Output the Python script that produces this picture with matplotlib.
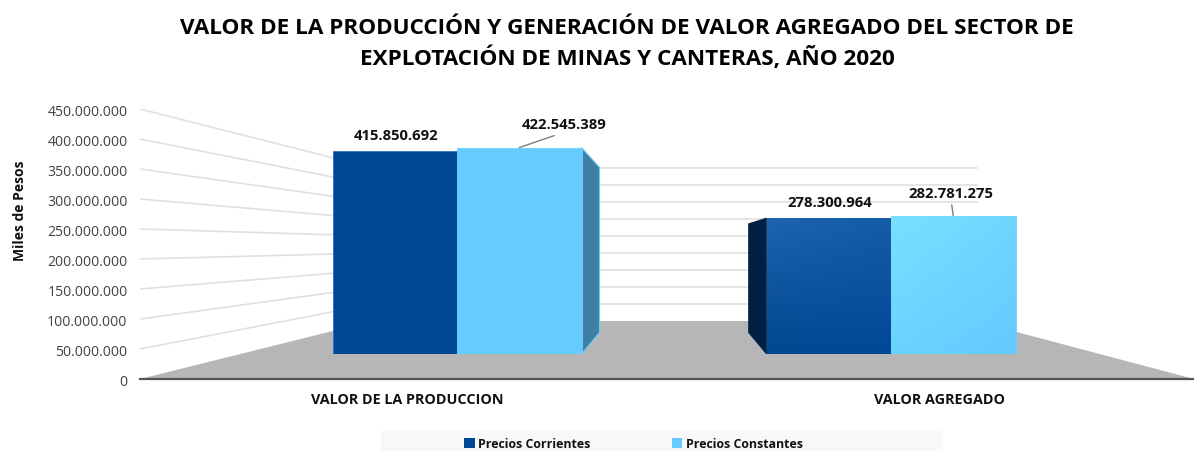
import numpy as np
import matplotlib
matplotlib.use("Agg")
import matplotlib.pyplot as plt
from matplotlib.colors import to_rgb
from matplotlib.patches import Patch, Polygon, Rectangle
from matplotlib.ticker import FuncFormatter
from matplotlib.transforms import ScaledTranslation

plt.rcParams['font.family'] = ['Open Sans', 'DejaVu Sans']

## data
categories = ["VALOR DE LA PRODUCCION", "VALOR AGREGADO"]
series_names = ["Precios Corrientes", "Precios Constantes"]
precios_corrientes = [415850692, 278300964]
precios_constantes = [422545389, 282781275]
y_ticks = [0, 50000000, 100000000, 150000000, 200000000, 250000000,
           300000000, 350000000, 400000000, 450000000]

W, H = 1194, 451


def px_box(x0, x1, y_top, y_bottom):
    ## pixel box -> figure fraction rect
    return [x0 / W, 1 - y_bottom / H, (x1 - x0) / W, (y_bottom - y_top) / H]


def dots(v, pos=None):
    return f"{int(v):,}".replace(",", ".")


fig = plt.figure(figsize=(W / 100, H / 100), dpi=100, facecolor="white")

## wall/floor axes: x is in pixels, y in pesos on the left scale
ax_wall = fig.add_axes(px_box(140, 1194, 109, 379))
ax_wall.set_xlim(140, 1194)
ax_wall.set_ylim(0, 450000000)
ax_wall.patch.set_visible(False)

back_left, back_right = 373, 977
back_floor = 96700000  ## back edge of floor on the left scale
back_scale = 0.5667

for v in y_ticks[1:]:
    yb = back_floor + back_scale * v
    ax_wall.plot([140, back_left, back_right], [v, yb, yb], color="#e0e0e0", lw=1.2,
                 solid_joinstyle="miter", zorder=1)

ax_wall.add_patch(Polygon([(140, 0), (back_left, back_floor), (back_right - 2, back_floor), (1194, 0)],
                          closed=True, facecolor="#b6b6b6", edgecolor="none", zorder=2))

ax_wall.set_yticks(y_ticks)
ax_wall.yaxis.set_major_formatter(FuncFormatter(dots))
ax_wall.tick_params(axis="y", length=0, pad=9, labelsize=10.1, labelcolor="#404040")
for t in ax_wall.get_yticklabels():
    t.set_transform(t.get_transform() + ScaledTranslation(0, -1 / 100, fig.dpi_scale_trans))
ax_wall.set_xticks([407, 940], categories, fontsize=10.4, fontweight="bold", color="#111111")
ax_wall.tick_params(axis="x", length=0, pad=10)
for s in ["top", "right", "left"]:
    ax_wall.spines[s].set_visible(False)
ax_wall.spines["bottom"].set_color("#555555")
ax_wall.spines["bottom"].set_linewidth(1.6)
ax_wall.spines["bottom"].set_zorder(3)

fig.text(20 / W, 1 - 211 / H, "Miles de Pesos", rotation=90, ha="center", va="center",
         fontsize=10, fontweight="bold", color="#111111")

## bar axes: category positions, pesos from the front of the floor
ax = fig.add_axes(px_box(140, 1194, 109, 354))
ax.axis("off")

x = np.arange(len(categories))
bar_w = 124.5 / 434
bars_a = ax.bar(x - bar_w / 2, precios_corrientes, bar_w, color="#004896",
                edgecolor="#2f6fb5", lw=0.6, zorder=4)
bars_b = ax.bar(x + bar_w / 2, precios_constantes, bar_w, color="#66ccff",
                edgecolor="#6fd0ff", lw=0.6, zorder=5)


def gradient(bar, tl, tr, bl, br):
    ## corner colours blended over the bar, clipped to it
    u, t = np.meshgrid(np.linspace(0, 1, 64), np.linspace(0, 1, 64))
    u, t = u[..., None], t[..., None]
    img = ((1 - t) * ((1 - u) * np.array(to_rgb(tl)) + u * np.array(to_rgb(tr)))
           + t * ((1 - u) * np.array(to_rgb(bl)) + u * np.array(to_rgb(br))))
    b = bar.get_bbox()
    im = ax.imshow(img, extent=[b.x0, b.x1, b.y0, b.y1], origin="upper", aspect="auto",
                   interpolation="bilinear", zorder=bar.get_zorder() + 0.1)
    im.set_clip_path(bar)


gradient(bars_a[1], "#1d63ae", "#155ca8", "#00488f", "#004896")
gradient(bars_b[1], "#7ae0ff", "#6fd6ff", "#6ad2ff", "#64caff")
ax.set_xlim((140 - 457) / 434, (1194 - 457) / 434)
ax.set_ylim(0, 501500000)

## side faces of the 3d bars
depth = 18 / 434
back_base = 44000000
k = 0.8
b = bars_b[0].get_bbox()
v = precios_constantes[0]
ax.add_patch(Polygon([(b.x1, 0), (b.x1, v), (b.x1 + depth, back_base + k * v), (b.x1 + depth, back_base)],
                     closed=True, facecolor="#3f7fa6", edgecolor="#66ccff", lw=0.8, zorder=3))
b = bars_a[1].get_bbox()
v = precios_corrientes[1]
ax.add_patch(Polygon([(b.x0, 0), (b.x0, v), (b.x0 - depth, back_base + k * v), (b.x0 - depth, back_base)],
                     closed=True, facecolor="#001f45", edgecolor="#001f45", lw=0.5, zorder=3))

## data labels
lab = dict(ha="center", va="center", fontsize=10.7, fontweight="bold", color="#111111",
           textcoords="offset points", annotation_clip=False, zorder=8)
line = dict(arrowstyle="-", color="#7f7f7f", lw=1, shrinkA=1, shrinkB=0, relpos=(0.5, 0))
ax.annotate(dots(precios_corrientes[0]), (x[0] - bar_w / 2, precios_corrientes[0]),
            xytext=(0.7, 10.5), **lab)
ax.annotate(dots(precios_constantes[0]), (x[0] + bar_w / 2, precios_constantes[0]),
            xytext=(32, 16), arrowprops=line, **lab)
ax.annotate(dots(precios_corrientes[1]), (x[1] - bar_w / 2, precios_corrientes[1]),
            xytext=(0.5, 11), **lab)
ax.annotate(dots(precios_constantes[1]), (x[1] + bar_w / 2, precios_constantes[1]),
            xytext=(-1.5, 16), arrowprops=line, **lab)

## title
fig.text(627 / W, 1 - 44 / H,
         "VALOR DE LA PRODUCCIÓN Y GENERACIÓN DE VALOR AGREGADO DEL SECTOR DE\n"
         "EXPLOTACIÓN DE MINAS Y CANTERAS, AÑO 2020",
         ha="center", va="center", fontsize=16.2, fontweight="bold", color="black", linespacing=1.36)

## legend strip
fig.add_artist(Rectangle((381 / W, 0), 562 / W, 20 / H, transform=fig.transFigure,
                         facecolor="#f8f8f8", edgecolor="none", zorder=0))
handles = [Patch(facecolor="#004896", label=series_names[0]),
           Patch(facecolor="#66ccff", label=series_names[1])]
fig.legend(handles=handles, loc="center left", bbox_to_anchor=(464 / W, 7 / H), ncol=2, frameon=False,
           prop={"size": 8.9, "weight": "bold"}, labelcolor="#111111", handlelength=0.85, handleheight=0.85,
           handletextpad=0.3, columnspacing=6.55, borderpad=0, borderaxespad=0)

fig.savefig("out.png", dpi=100)
